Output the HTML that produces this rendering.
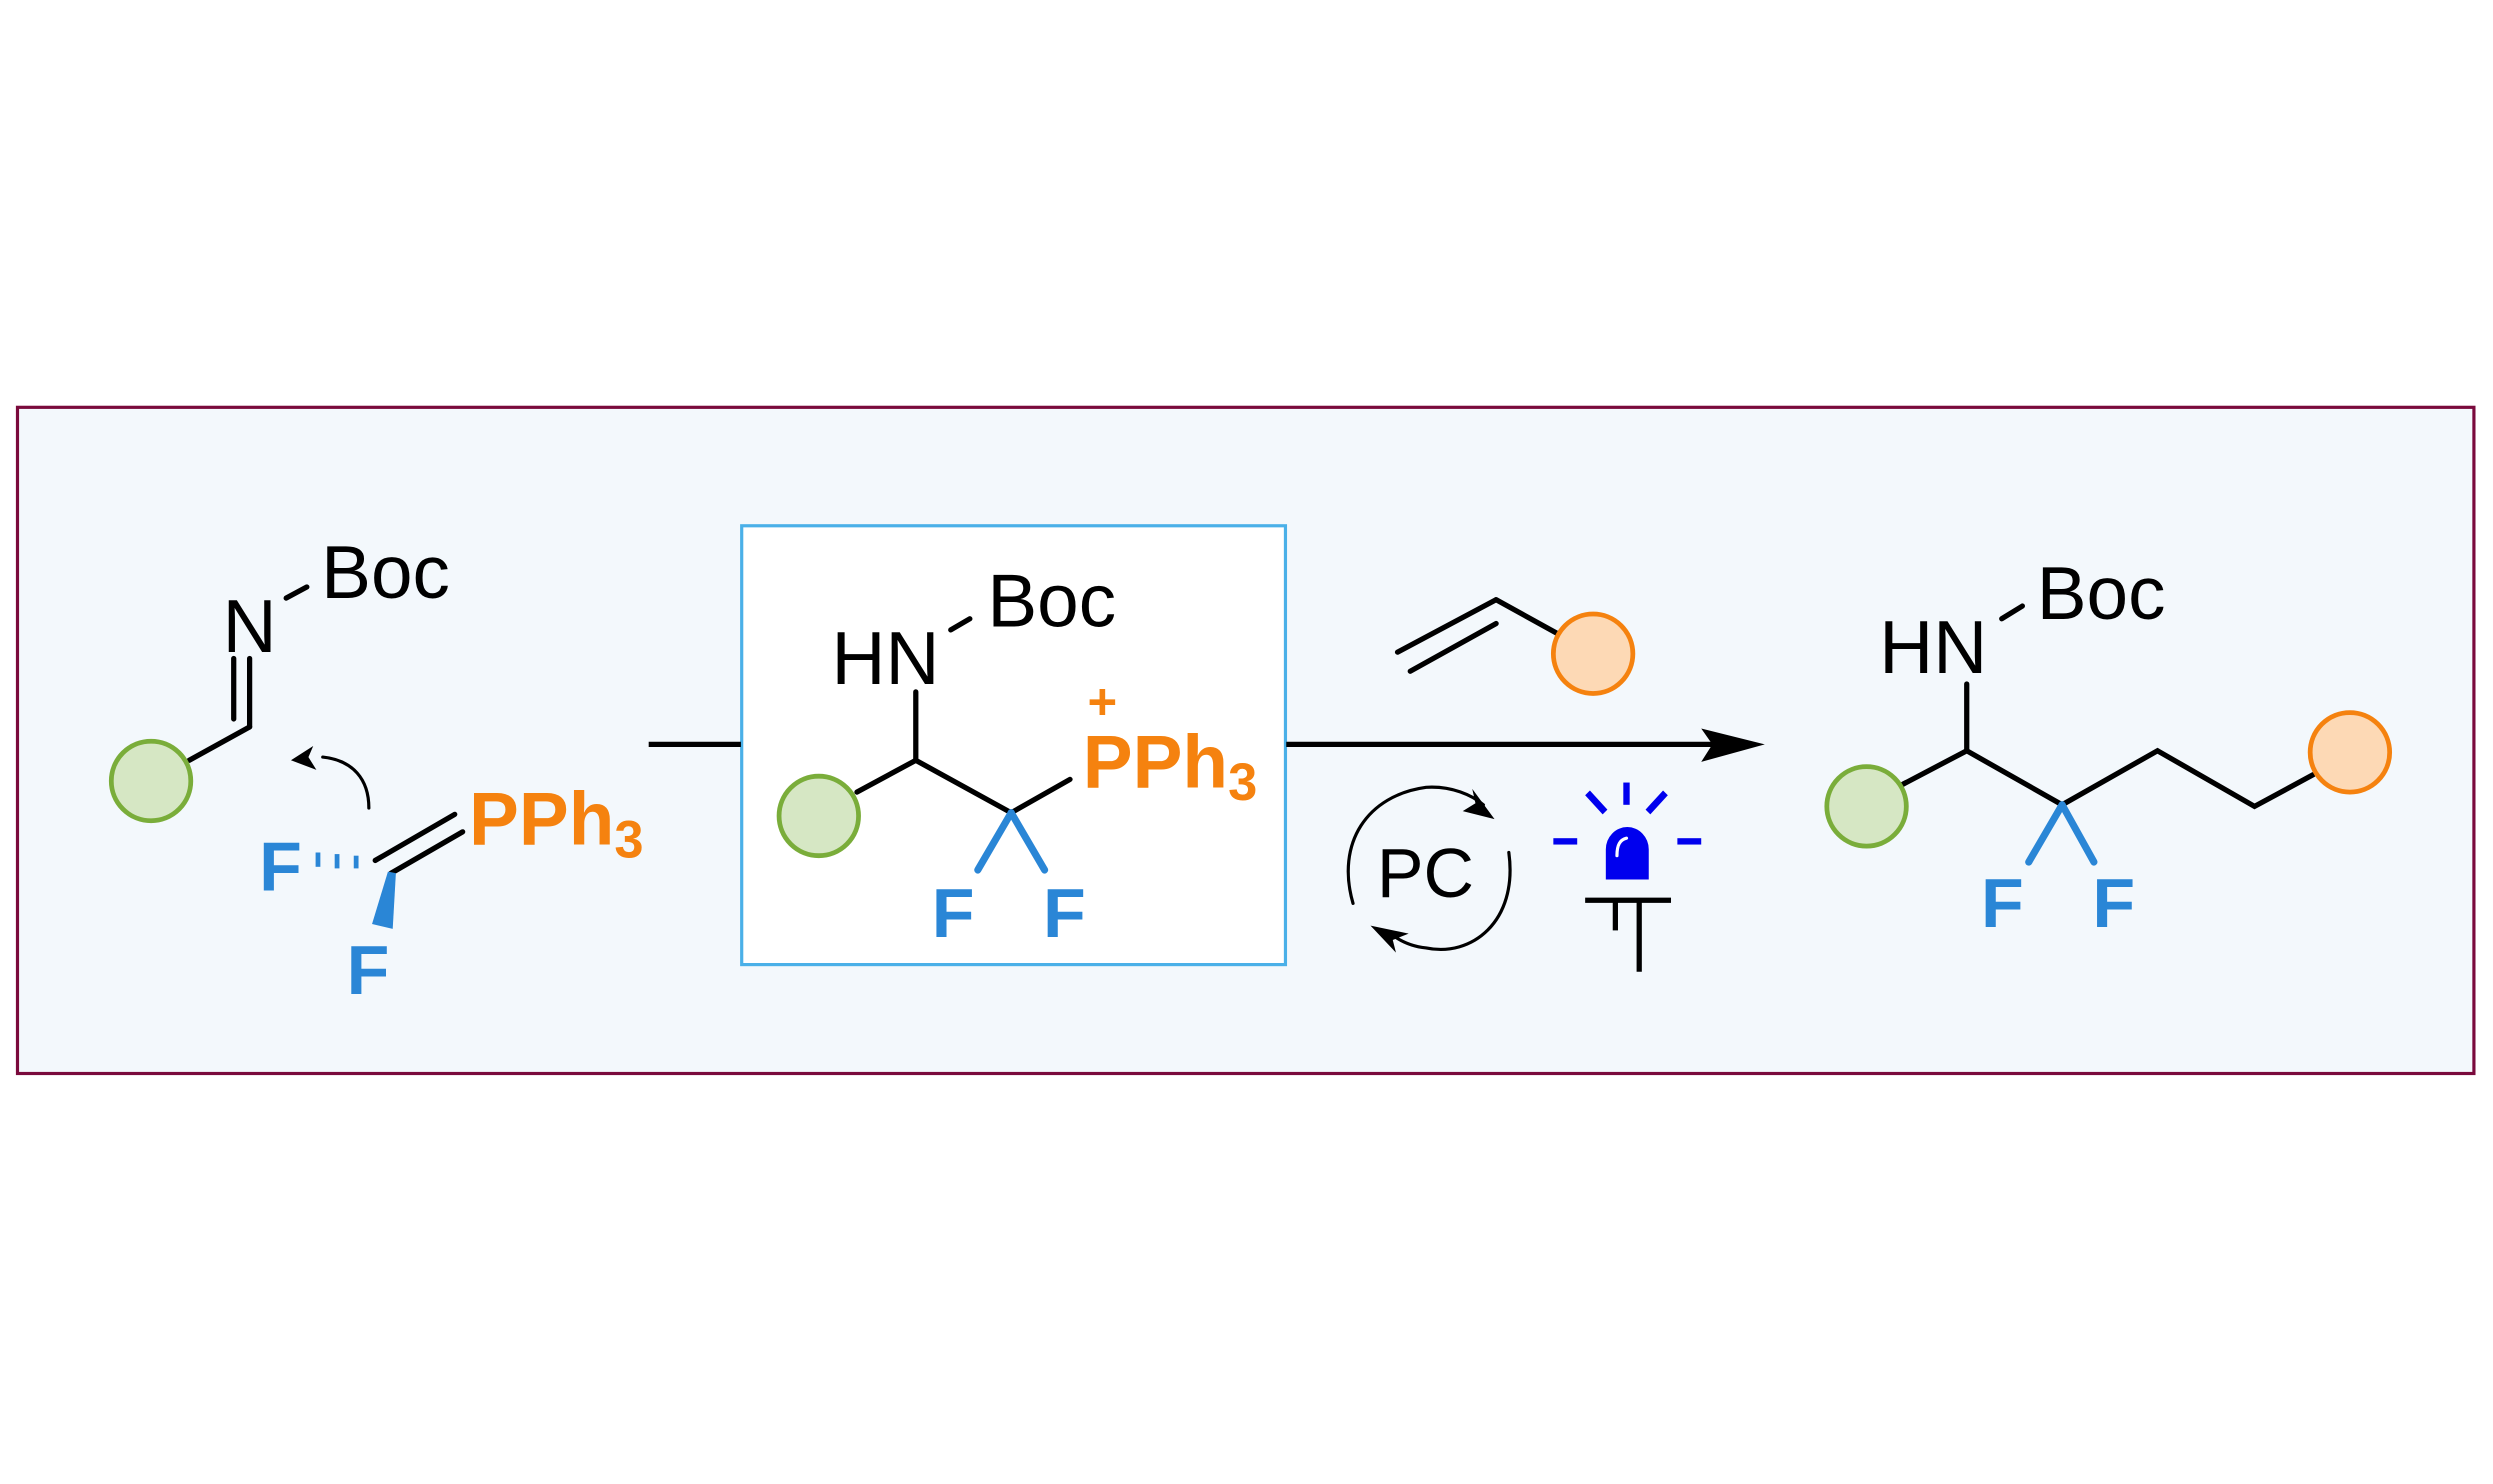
<!DOCTYPE html>
<html><head><meta charset="utf-8"><style>
html,body{margin:0;padding:0;background:#fff}
svg{display:block}
text{font-family:"Liberation Sans",Arial,sans-serif}
.b{fill:#2a86d6;font-weight:bold}
.o{fill:#f5820f;font-weight:bold}
</style></head><body>
<svg width="2493" height="1484" viewBox="0 0 1568 933" xmlns="http://www.w3.org/2000/svg">
<rect x="11" y="256" width="1545" height="419" fill="#f3f8fc" stroke="#7a0a3c" stroke-width="2"/>
<rect x="466.5" y="330.5" width="342" height="276" fill="#fff" stroke="#4ab0e8" stroke-width="2"/>
<g stroke="#000" stroke-width="3.3" fill="none" stroke-linecap="round">
<line x1="119" y1="478" x2="157" y2="457"/>
<line x1="157" y1="457" x2="157" y2="414"/>
<line x1="147" y1="452" x2="147" y2="414"/>
<line x1="180" y1="376" x2="193" y2="369"/>
<path d="M232,508 C232,490 222,478 203,476" stroke-width="2"/>
<line x1="236" y1="541" x2="286" y2="512"/>
<line x1="246" y1="549" x2="291" y2="523"/>
<line x1="408" y1="468" x2="466" y2="468" stroke-linecap="butt"/>
<line x1="598" y1="396" x2="610" y2="389"/>
<line x1="576" y1="435" x2="576" y2="478"/>
<line x1="539" y1="498" x2="576" y2="478"/>
<line x1="576" y1="478" x2="636" y2="511"/>
<line x1="636" y1="511" x2="673" y2="490"/>
<line x1="809" y1="468" x2="1080" y2="468" stroke-linecap="butt"/>
<line x1="879" y1="410" x2="941" y2="377"/>
<line x1="887" y1="422" x2="941" y2="392"/>
<line x1="941" y1="377" x2="979" y2="398"/>
<line x1="1259" y1="389" x2="1272" y2="381"/>
<line x1="1237" y1="430" x2="1237" y2="472"/>
<polyline points="1197,493 1237,472 1297,506 1357,472 1418,507 1455,487" stroke-linejoin="miter"/>
<path d="M851,568 C840,530 860,500 897,495 C913,494 926,500 933,506" stroke-width="2"/>
<path d="M949,536 C955,580 925,602 897,596 C887,595 880,591 876,588" stroke-width="2"/>
<line x1="997" y1="566" x2="1051" y2="566" stroke-linecap="butt"/>
<line x1="1031" y1="566" x2="1031" y2="611" stroke-linecap="butt"/>
<line x1="1016" y1="566" x2="1016" y2="585" stroke-linecap="butt"/>
</g>
<path d="M1110,468 L1070,458 L1077,468 L1070,479 Z" fill="#000"/>
<path d="M183,478 L197,469 L194,476 L199,484 Z" fill="#000"/>
<path d="M940,515 L926,496 L928,505 L920,510 Z" fill="#000"/>
<path d="M862,582 L878,599 L876,591 L886,587 Z" fill="#000"/>
<g stroke="#2a86d6" stroke-width="4.5" stroke-linecap="round">
<line x1="636" y1="511" x2="615" y2="547"/>
<line x1="636" y1="511" x2="657" y2="547"/>
<line x1="1297" y1="506" x2="1276" y2="542"/>
<line x1="1297" y1="506" x2="1317" y2="542"/>
</g>
<g stroke="#2a86d6" stroke-width="3">
<line x1="200" y1="536" x2="200" y2="545"/>
<line x1="212" y1="537" x2="212" y2="546"/>
<line x1="224" y1="538" x2="224" y2="546"/>
</g>
<path d="M244,548 L249,549 L247,584 L234,581 Z" fill="#2a86d6"/>
<g stroke-width="3">
<circle cx="95" cy="491" r="25" fill="#d6e7c4" stroke="#7aad3a"/>
<circle cx="515" cy="513" r="25" fill="#d6e7c4" stroke="#7aad3a"/>
<circle cx="1174" cy="507" r="25" fill="#d6e7c4" stroke="#7aad3a"/>
<circle cx="1002" cy="411" r="25" fill="#fdd9b5" stroke="#f5820f"/>
<circle cx="1478" cy="473" r="25" fill="#fdd9b5" stroke="#f5820f"/>
</g>
<g fill="#0000ee">
<path d="M1010,553 L1010,534 A13.5,14 0 0 1 1037,534 L1037,553 Z"/>
<rect x="1021" y="492" width="4" height="14"/>
<rect x="977" y="527" width="15" height="4"/>
<rect x="1055" y="527" width="15" height="4"/>
<path d="M997,500 L1000,497 L1011,509 L1008,512 Z"/>
<path d="M1046,497 L1049,500 L1038,512 L1035,509 Z"/>
</g>
<path d="M1017,538 C1017,531 1019,528 1023,527" stroke="#fff" stroke-width="2" fill="none" stroke-linecap="round"/>
<g font-size="47" fill="#000">
<text x="140" y="410">N</text>
<text x="202" y="376">Boc</text>
<text x="523" y="430">HN</text>
<text x="621" y="394">Boc</text>
<text x="1182" y="423">HN</text>
<text x="1281" y="389">Boc</text>
<text x="866" y="564" font-size="44">PC</text>
</g>
<text class="o" x="295" y="531" font-size="47">PPh<tspan font-size="33" dy="8">3</tspan></text>
<text class="o" x="681" y="495" font-size="47">PPh<tspan font-size="33" dy="8">3</tspan></text>
<text class="o" x="684" y="452" font-size="32">+</text>
<g class="b" font-size="44">
<text x="163" y="560">F</text>
<text x="218" y="625">F</text>
<text x="586" y="589">F</text>
<text x="656" y="589">F</text>
<text x="1246" y="583">F</text>
<text x="1316" y="583">F</text>
</g>
</svg>
</body></html>
